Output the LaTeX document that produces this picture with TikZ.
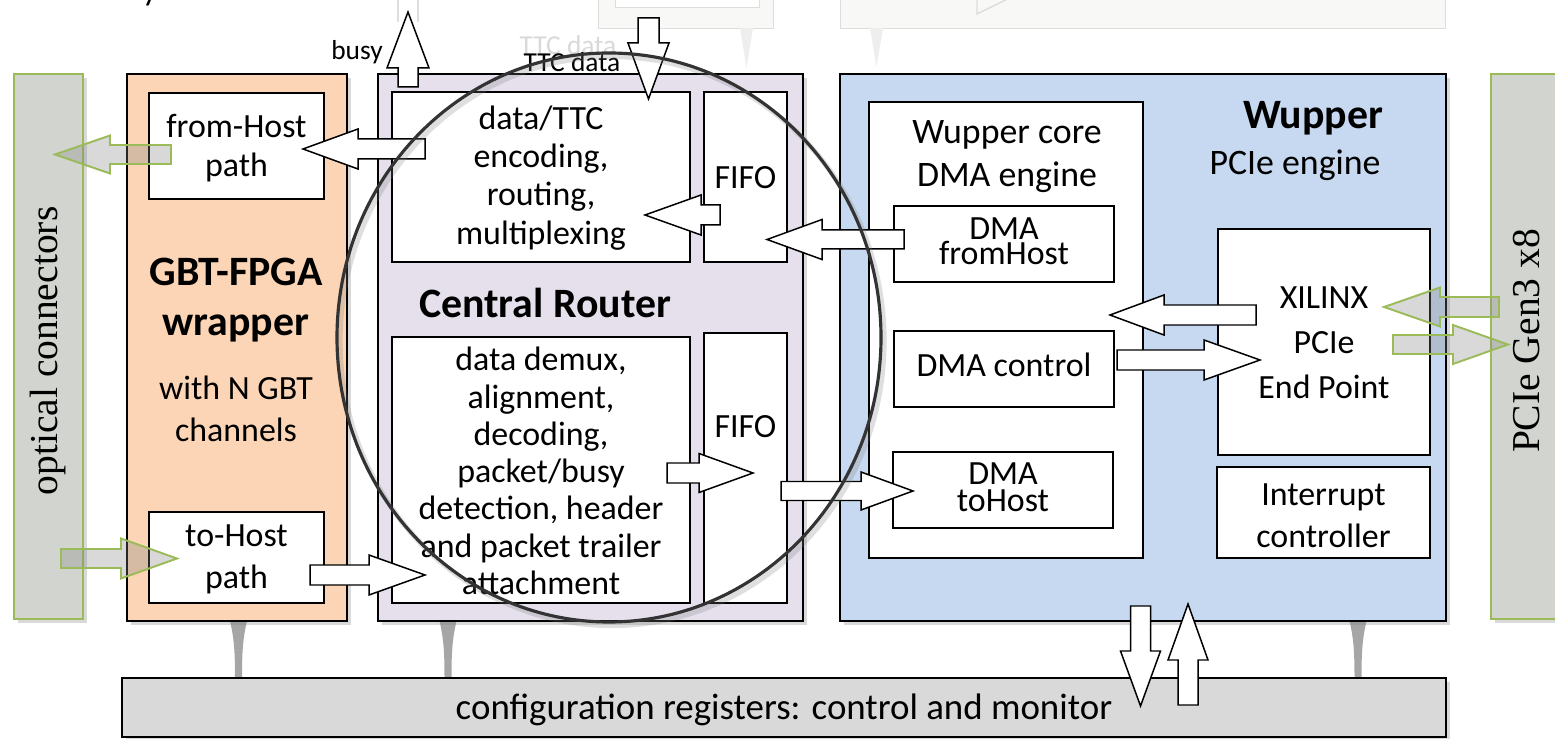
\documentclass[tikz,border=0pt]{standalone}
\usepackage{fontspec}
\setmainfont{Carlito}
\newfontfamily\serifface{Liberation Serif}
\usetikzlibrary{shadows,fit}

\definecolor{peach}{HTML}{FBD5B5}
\definecolor{lavender}{HTML}{E5E0EC}
\definecolor{paleblue}{HTML}{C6D9F1}
\definecolor{portgray}{HTML}{D2D5CF}
\definecolor{portgreen}{HTML}{9BBB59}
\definecolor{cfggray}{HTML}{D9D9D9}
\definecolor{stemgray}{HTML}{A6A6A6}
\definecolor{ringgray}{HTML}{333333}
\definecolor{ghostfill}{HTML}{F8F8F6}
\definecolor{ghostline}{HTML}{DDDDDD}

\newcommand\txt[2]{\fontsize{#1}{#2}\selectfont}
% horizontal block arrow: [style]{tail x}{head base x}{tip x}{axis y}{shaft half}{head half}
\newcommand\harrow[7][hollowarrow]{%
  \draw[#1] (#2,#5-#6) -- (#3,#5-#6) -- (#3,#5-#7) -- (#4,#5) -- (#3,#5+#7) -- (#3,#5+#6) -- (#2,#5+#6) -- cycle;}
% vertical block arrow: [style]{tail y}{head base y}{tip y}{axis x}{shaft half}{head half}
\newcommand\varrow[7][hollowarrow]{%
  \draw[#1] (#5-#6,#2) -- (#5-#6,#3) -- (#5-#7,#3) -- (#5,#4) -- (#5+#7,#3) -- (#5+#6,#3) -- (#5+#6,#2) -- cycle;}
% tapered link from a block down to the register bar
\newcommand\stem[1]{%
  \fill[stemgray] (#1-8.5,621) .. controls (#1-4,640) and (#1-3.5,655) .. (#1-3.5,679)
    -- (#1+3.5,679) .. controls (#1+3.5,655) and (#1+4,640) .. (#1+8.5,621) -- cycle;}

\begin{document}
\begin{tikzpicture}[x=0.02cm, y=-0.02cm,
  shade/.style={drop shadow={shadow xshift=2.5pt, shadow yshift=-2.5pt, opacity=0.3}},
  block/.style={draw=black, line width=1.4pt, inner sep=0pt},
  innerbox/.style={draw=black, line width=1.1pt, fill=white, inner sep=0pt},
  port/.style={draw=portgreen, line width=1.1pt, fill=portgray, inner sep=0pt},
  hollowarrow/.style={draw=black, line width=0.85pt, fill=white, line join=miter},
  greenarrow/.style={draw=portgreen, line width=1.1pt, fill=gray, fill opacity=0.3, line join=miter},
  lbl/.style={align=center, inner sep=0pt, font=\txt{19.3}{21.3}},
]
\useasboundingbox (0,0) rectangle (1555,739);

% faded blocks of the surrounding system
\draw[ghostline, fill=ghostfill] (598,-30) rectangle (773,28);
\draw[ghostline, fill=white] (615,-30) rectangle (759,7);
\draw[ghostline, fill=ghostfill] (840,-30) rectangle (1445,28);
\draw[ghostline, line width=0.8pt] (977,-30) -- (977,14) -- (1030,-12);
\fill[gray!13] (740,28) -- (753,28) -- (746.5,68) -- cycle;
\fill[gray!13] (870,28) -- (883,28) -- (876.5,67) -- cycle;
\draw[ghostline, line width=0.8pt] (398,-5) -- (398,22) (418,-5) -- (418,22);
\node[lbl, font=\txt{15.6}{18}, text=gray!30] at (568,45) {TTC data};
\node[anchor=base, inner sep=0pt, font=\txt{19.3}{21}] at (150,1) {y};

% links to the register bar
\stem{238.5}
\stem{448}
\stem{1358}

% connector strips
\node[port, shade, fit={(14,74) (83,619)}] (optical) {};
\node[port, shade, fit={(1491,74) (1562,619)}] (pcie) {};
\node[rotate=90, inner sep=0pt, font=\serifface\txt{22.5}{27}] at (48,351) {optical connectors};
\node[rotate=90, inner sep=0pt, font=\serifface\txt{22.5}{27}] at (1527,341) {PCIe Gen3 x8};

% register bar
\node[block, fill=cfggray, shade, fit={(122,678) (1446,737)}] (cfg) {};
\node[inner sep=0pt, font=\txt{21}{25}] at (784,710) {configuration registers: control and monitor};

% main blocks
\node[block, fill=peach, shade, fit={(127,74) (347,621)}] (gbt) {};
\node[block, fill=lavender, shade, fit={(378,74) (803,621)}] (router) {};
\node[block, fill=paleblue, shade, fit={(840,74) (1446,621)}] (wupper) {};

% GBT-FPGA wrapper
\node[innerbox, fit={(149,93) (324,199)}] (fromhost) {};
\node[lbl, font=\txt{19.3}{22.1}] at (236.5,148) {from-Host\\path};
\node[innerbox, fit={(149,512) (324,603)}] (tohost) {};
\node[lbl, font=\txt{19.3}{23.8}] at (236.5,559) {to-Host\\path};
\node[lbl, font=\bfseries\txt{23.8}{28.3}] at (236,300) {GBT-FPGA\\wrapper};
\node[lbl, font=\txt{19.3}{23.8}] at (236,409) {with N GBT\\channels};

% Central Router
\node[innerbox, fit={(392,92) (690,262)}] (encode) {};
\node[lbl, font=\txt{19.3}{21.7}] at (541,178) {data/TTC\\encoding,\\routing,\\multiplexing};
\node[innerbox, fit={(704,92) (787,262)}] (fifoA) {};
\node[lbl] at (745.5,178) {FIFO};
\node[innerbox, fit={(392,337) (690,603)}] (decode) {};
\node[lbl, font=\txt{19.3}{21.2}] at (541,471) {data demux,\\alignment,\\decoding,\\packet/busy\\detection, header\\and packet trailer\\attachment};
\node[innerbox, fit={(704,333) (787,603)}] (fifoB) {};
\node[lbl] at (745.5,427) {FIFO};
\node[lbl, font=\bfseries\txt{23.8}{28.3}] at (545,303) {Central Router};

% Wupper
\node[innerbox, fit={(869,102) (1143,558)}] (core) {};
\node[lbl, font=\txt{20.4}{24.4}] at (1007,157) {Wupper core\\DMA engine};
\node[innerbox, fit={(894,206) (1114,282)}] (dmafrom) {};
\node[lbl, font=\txt{19.3}{14.2}] at (1004,241) {DMA\\fromHost};
\node[innerbox, fit={(894,331) (1114,407)}] (dmactl) {};
\node[lbl] at (1004,365) {DMA control};
\node[innerbox, fit={(893,452) (1113,528)}] (dmato) {};
\node[lbl, font=\txt{19.3}{15.3}] at (1003,487) {DMA\\toHost};
\node[innerbox, fit={(1218,229) (1430,455)}] (xilinx) {};
\node[lbl, font=\txt{19.3}{25.5}] at (1324,343) {XILINX\\PCIe\\End Point};
\node[innerbox, fit={(1217,467) (1430,558)}] (irq) {};
\node[lbl, font=\txt{19.3}{23.8}] at (1323.5,516) {Interrupt\\controller};
\node[lbl, font=\bfseries\txt{23.8}{28.3}] at (1313,118) {Wupper};
\node[lbl, font=\txt{20.4}{24.4}] at (1295,165) {PCIe engine};

% data paths
\varrow{87}{68}{12}{408}{10}{21}
\node[lbl, font=\txt{15.6}{18}] at (357,52) {busy};
\varrow{18}{43}{99}{648.5}{10.5}{20.5}
\node[lbl, font=\txt{15.6}{18}] at (572,62) {TTC data};
\harrow{425}{358}{303}{149}{10}{20}
\harrow{720}{701}{645}{215}{10}{20}
\harrow{904}{822}{767}{239.5}{9.5}{20}
\harrow{310}{369}{425}{575}{10}{20}
\harrow{667}{699}{753}{473}{10}{19.5}
\harrow{781}{861}{913}{491}{9.5}{19}
\harrow{1256}{1164}{1110}{315}{10}{20}
\harrow{1117}{1204}{1260}{360}{10}{20}
\varrow{606}{651}{706}{1140.5}{10}{20}
\varrow{705}{660}{604}{1188}{10}{20}

% external links
\harrow[greenarrow]{171}{110}{55}{154.5}{9.5}{19}
\harrow[greenarrow]{61}{121}{177}{558.5}{9.5}{20}
\harrow[greenarrow]{1499}{1440}{1384}{307}{10}{19.5}
\harrow[greenarrow]{1393}{1453}{1508}{344.5}{9.5}{19.5}

% highlight ring
\draw[gray, opacity=0.25, line width=3pt] (612,341) ellipse [x radius=272, y radius=284.5];
\draw[ringgray, line width=1.8pt] (609,337.5) ellipse [x radius=272, y radius=284.5];
\end{tikzpicture}
\end{document}
